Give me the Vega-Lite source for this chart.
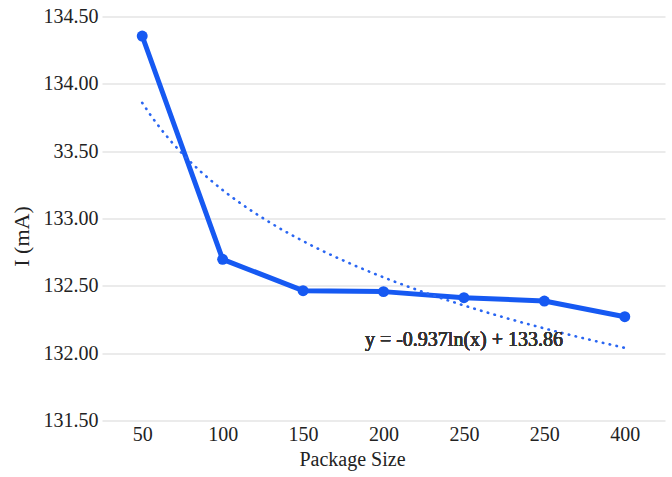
{
  "$schema": "https://vega.github.io/schema/vega-lite/v6.json",
  "width": 563,
  "height": 404,
  "autosize": "none",
  "padding": {"left": 102, "top": 16.5, "right": 7, "bottom": 56.5},
  "background": "white",
  "config": {
    "view": {"stroke": null},
    "font": "Liberation Serif"
  },
  "data": {
    "values": [
      {"idx": 1, "size": "50", "I": 134.355},
      {"idx": 2, "size": "100", "I": 132.697},
      {"idx": 3, "size": "150", "I": 132.464},
      {"idx": 4, "size": "200", "I": 132.457},
      {"idx": 5, "size": "250", "I": 132.412},
      {"idx": 6, "size": "250", "I": 132.387},
      {"idx": 7, "size": "400", "I": 132.271}
    ]
  },
  "encoding": {
    "x": {
      "field": "idx",
      "type": "quantitative",
      "scale": {"domain": [0.5, 7.5], "nice": false, "zero": false},
      "axis": {
        "title": "Package Size",
        "values": [1, 2, 3, 4, 5, 6, 7],
        "labelExpr": "['50','100','150','200','250','250','400'][datum.value - 1]",
        "grid": false,
        "domain": false,
        "ticks": false,
        "labelFont": "Liberation Serif",
        "titleFont": "Liberation Serif",
        "labelColor": "#222222",
        "titleColor": "#222222",
        "titleFontWeight": "normal",
        "labelFontSize": 20,
        "labelPadding": 4,
        "labelDx": -5,
        "titleFontSize": 20,
        "titleX": 250,
        "titleY": 45,
        "titleBaseline": "alphabetic",
        "titleAlign": "center"
      }
    },
    "y": {
      "field": "I",
      "type": "quantitative",
      "scale": {"domain": [131.5, 134.5], "nice": false, "zero": false},
      "axis": {
        "title": "I (mA)",
        "values": [131.5, 132, 132.5, 133, 133.5, 134, 134.5],
        "format": ".2f",
        "labelExpr": "datum.value == 133.5 ? '33.50' : datum.label",
        "grid": true,
        "gridColor": "#ebebeb",
        "gridWidth": 2,
        "domain": false,
        "ticks": false,
        "labelFont": "Liberation Serif",
        "titleFont": "Liberation Serif",
        "labelColor": "#222222",
        "titleColor": "#222222",
        "titleFontWeight": "normal",
        "labelFontSize": 20,
        "labelPadding": 4,
        "titleFontSize": 22,
        "titleX": -81,
        "titleY": 219.5,
        "titleAlign": "center",
        "titleBaseline": "middle"
      }
    }
  },
  "layer": [
    {
      "mark": {"type": "line", "color": "#1659f2", "strokeWidth": 5, "strokeCap": "round", "strokeJoin": "round"}
    },
    {
      "mark": {"type": "circle", "color": "#1659f2", "opacity": 1, "size": 120}
    },
    {
      "transform": [
        {"regression": "I", "on": "idx", "method": "log", "extent": [1, 7]}
      ],
      "mark": {"type": "line", "color": "#2a66f2", "strokeWidth": 2.6, "strokeCap": "round", "strokeDash": [0.5, 6.5]}
    },
    {
      "mark": {"type": "text", "text": "y = -0.937ln(x) + 133.86", "fontSize": 20, "font": "Liberation Serif", "fontWeight": 400, "fill": "#333333", "strokeWidth": 0, "align": "center", "baseline": "alphabetic"},
      "encoding": {
        "x": {"datum": 5},
        "y": {"datum": 132.05}
      }
    }
  ]
}
